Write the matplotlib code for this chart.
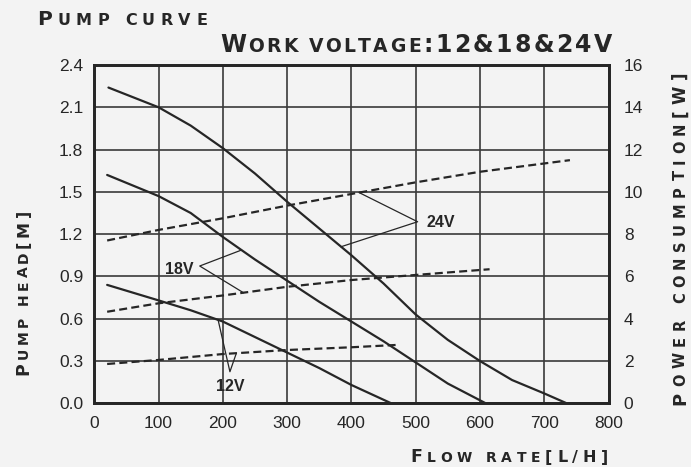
import numpy as np
import matplotlib
matplotlib.use("Agg")
import matplotlib.pyplot as plt
from matplotlib.transforms import IdentityTransform

# ---------------- data ----------------
flow_ticks = [0, 100, 200, 300, 400, 500, 600, 700, 800]
head_ticks = [0.0, 0.3, 0.6, 0.9, 1.2, 1.5, 1.8, 2.1, 2.4]
power_ticks = [0, 2, 4, 6, 8, 10, 12, 14, 16]

flow_24 = [22, 100, 150, 200, 250, 300, 350, 400, 450, 500, 550, 600, 650, 700, 735]
head_24 = [2.24, 2.10, 1.97, 1.81, 1.63, 1.43, 1.24, 1.05, 0.85, 0.63, 0.45, 0.30, 0.165, 0.07, 0.0]
flow_18 = [20, 100, 150, 200, 250, 300, 350, 400, 450, 500, 550, 609]
head_18 = [1.62, 1.47, 1.35, 1.18, 1.02, 0.87, 0.72, 0.58, 0.44, 0.29, 0.14, 0.0]
flow_12 = [20, 100, 150, 200, 250, 300, 350, 400, 462]
head_12 = [0.84, 0.73, 0.66, 0.58, 0.47, 0.36, 0.25, 0.13, 0.0]

flow_p24 = [20, 100, 200, 300, 400, 500, 600, 740]
power_24 = [7.7, 8.2, 8.75, 9.35, 9.9, 10.45, 10.95, 11.5]
flow_p18 = [20, 100, 200, 300, 400, 500, 615]
power_18 = [4.33, 4.73, 5.1, 5.51, 5.83, 6.07, 6.34]
flow_p12 = [20, 100, 200, 300, 400, 470]
power_12 = [1.86, 2.05, 2.33, 2.52, 2.65, 2.76]

INK = '#262626'
BG = '#f3f3f3'
W, H = 691, 467

fig = plt.figure(figsize=(W / 100, H / 100), dpi=100, facecolor=BG)
x0, x1, ytop, ybot = 94.3, 608.5, 65.0, 403.3
ax = fig.add_axes([x0 / W, 1 - ybot / H, (x1 - x0) / W, (ybot - ytop) / H])
ax.set_facecolor(BG)
ax.set_xlim(0, 800)
ax.set_ylim(0, 2.4)
ax.set_xticks(flow_ticks)
ax.set_xticklabels([str(v) for v in flow_ticks])
ax.set_yticks(head_ticks)
ax.set_yticklabels([f"{v:.1f}" for v in head_ticks])
ax.grid(True, color='#3a3a3a', lw=1.2)
ax.set_axisbelow(True)
for s in ax.spines.values():
    s.set_linewidth(2.0)
    s.set_color(INK)

ax2 = ax.twinx()
ax2.set_ylim(0, 16)
ax2.set_yticks(power_ticks)
ax2.set_yticklabels([str(v) for v in power_ticks])
for s in ax2.spines.values():
    s.set_linewidth(2.0)
    s.set_color(INK)

ax.tick_params(axis='both', length=0, pad=8)
ax.tick_params(axis='x', pad=9)
ax2.tick_params(axis='y', length=0, pad=11)
for lab in ax.get_xticklabels() + ax.get_yticklabels() + ax2.get_yticklabels():
    lab.set_fontfamily(['Liberation Sans', 'DejaVu Sans'])
    lab.set_fontsize(12.5)
    lab.set_color(INK)

# head curves (solid)
for f, h in [(flow_24, head_24), (flow_18, head_18), (flow_12, head_12)]:
    ax.plot(f, h, color=INK, lw=1.6, solid_capstyle='round', solid_joinstyle='round')

# power curves (dashed)
for f, p in [(flow_p24, power_24), (flow_p18, power_18), (flow_p12, power_12)]:
    ax2.plot(f, p, color=INK, lw=1.6, dashes=(3.6, 1.9))

# leader annotations
k = 2.4 / 16
lead = dict(color=INK, lw=0.9)
lab_font = dict(family=['Liberation Sans', 'DejaVu Sans'], size=11.5, weight='bold', color=INK)

v24 = (503, 1.288)
ax.plot([412, v24[0], 384],
        [np.interp(412, flow_p24, power_24) * k, v24[1], np.interp(384, flow_24, head_24)], **lead)
ax.text(517, 1.286, '24V', ha='left', va='center', **lab_font)

v18 = (164, 0.974)
ax.plot([229, v18[0], 232],
        [np.interp(229, flow_18, head_18), v18[1], np.interp(232, flow_p18, power_18) * k], **lead)
ax.text(155, 0.95, '18V', ha='right', va='center', **lab_font)

v12 = (211, 0.224)
ax.plot([192.6, v12[0], 221],
        [np.interp(192.6, flow_12, head_12), v12[1], np.interp(221, flow_p12, power_12) * k], **lead)
ax.text(211, 0.118, '12V', ha='center', va='center', **lab_font)

# ---------------- small-caps style titles ----------------
renderer = fig.canvas.get_renderer()


def spaced(chunks, start, end, base, vertical=False):
    chars = [(c, s) for txt, s in chunks for c in txt]
    objs, widths = [], []
    for c, s in chars:
        if c == ' ':
            objs.append(None)
            widths.append(s * 100 / 72 * 0.3)
            continue
        t = fig.text(0, 0, c, fontsize=s, fontweight='bold', family='DejaVu Sans',
                     color=INK, transform=IdentityTransform(), ha='left', va='baseline',
                     rotation=90 if vertical else 0, rotation_mode='anchor')
        bb = t.get_window_extent(renderer)
        objs.append(t)
        widths.append(bb.height if vertical else bb.width)
    gap = ((end - start) - sum(widths)) / max(len(chars) - 1, 1)
    pos = start
    for t, w in zip(objs, widths):
        if t is not None:
            t.set_position((base, pos) if vertical else (pos, base))
        pos += w + gap


spaced([('P', 14.5), ('UMP CURVE', 11.5)], 37, 207, H - 25)
spaced([('W', 17), ('ORK VOLTAGE', 13.5), (':12&18&24V', 17)], 220, 612, H - 52)
spaced([('F', 12.5), ('LOW RATE', 10), ('[L/H]', 11.5)], 410, 608, H - 462)
spaced([('P', 12.5), ('UMP HEAD', 10), ('[M]', 11.5)], H - 375, H - 210, 28, vertical=True)
spaced([('P', 13), ('OWER CONSUMPTION', 10.5), ('[W]', 12)], H - 405, H - 72, 685, vertical=True)

fig.savefig('out.png', dpi=100, facecolor=BG)
